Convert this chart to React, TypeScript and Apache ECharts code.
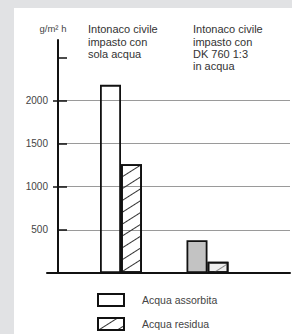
import React, { useEffect, useRef } from 'react';
import * as echarts from 'echarts';

const categories = [
  'Intonaco civile\nimpasto con\nsola acqua',
  'Intonaco civile\nimpasto con\nDK 760 1:3\nin acqua',
];
const seriesNames = ['Acqua assorbita', 'Acqua residua'];
const assorbita = [2180, 380];
const residua = [1260, 130];
const yMin = 0;
const yMax = 2700;
const yStep = 500;
const yTickValues = [500, 1000, 1500, 2000, 2500];
const yMajorTickValues = [1000, 2000];
const yLabelValues = [500, 1000, 1500, 2000];
const unitLabel = 'g/m² h';

const FONT = "'Liberation Sans', Arial, sans-serif";

export default function App() {
  const ref = useRef<HTMLDivElement>(null);
  useEffect(() => {
    if (!ref.current) return;
    const chart = echarts.init(ref.current, null, { renderer: 'svg' });
    const top = 32;
    const bottom = 61;
    const hatch = (color: string) => ({
      symbol: 'rect',
      symbolSize: 1,
      dashArrayX: [1, 0],
      dashArrayY: [1, 9],
      rotation: -Math.PI * 0.18,
      color,
    });
    const gridLineColors = ['rgba(0,0,0,0)', '#9a9a9a', '#9a9a9a', '#9a9a9a', '#9a9a9a', 'rgba(0,0,0,0)', 'rgba(0,0,0,0)'];
    chart.setOption({
      animation: false,
      textStyle: { fontFamily: FONT },
      grid: [
        { left: 44, right: 2, top, bottom },
        { left: 63.75, width: 173, top, bottom },
        { left: 33, right: 2, top, bottom },
      ],
      xAxis: [
        { gridIndex: 0, type: 'value', min: 0, max: 1, show: false },
        { gridIndex: 1, type: 'category', data: categories, show: false },
        {
          gridIndex: 2, type: 'value', min: 0, max: 1,
          axisLine: { show: true, onZero: false, lineStyle: { color: '#111', width: 2 } },
          axisTick: { show: false }, axisLabel: { show: false }, splitLine: { show: false },
        },
      ],
      yAxis: [
        {
          gridIndex: 0, type: 'value', position: 'left', min: yMin, max: yMax, interval: yStep,
          name: unitLabel, nameLocation: 'end', nameGap: 7,
          nameTextStyle: { fontSize: 9.5, color: '#444', align: 'center', padding: [0, 10, 0, 0], fontFamily: FONT },
          axisLine: { show: true, lineStyle: { color: '#111', width: 2 } },
          axisTick: { show: true, inside: true, length: 9, customValues: yTickValues, lineStyle: { color: '#111', width: 1.5 } },
          axisLabel: {
            show: true, customValues: yLabelValues, margin: 10, fontSize: 10, color: '#444', fontFamily: FONT,
            formatter: (v: number) => String(v),
          },
          splitLine: { show: false },
        },
        {
          gridIndex: 0, type: 'value', position: 'left', min: yMin, max: yMax, interval: yStep,
          axisLine: { show: false },
          axisTick: { show: true, inside: false, length: 5, customValues: yMajorTickValues, lineStyle: { color: '#111', width: 1.5 } },
          axisLabel: { show: false },
          splitLine: { show: false },
        },
        {
          gridIndex: 0, type: 'value', position: 'left', min: yMin, max: yMax, interval: yStep,
          axisLine: { show: false }, axisTick: { show: false }, axisLabel: { show: false },
          splitLine: { show: true, lineStyle: { color: gridLineColors, width: 1 } },
        },
        { gridIndex: 1, type: 'value', min: yMin, max: yMax, show: false, splitLine: { show: false } },
        { gridIndex: 2, type: 'value', min: yMin, max: yMax, show: false, splitLine: { show: false } },
      ],
      legend: {
        orient: 'vertical', left: 83, top: 285, bottom: 0, padding: 0,
        itemWidth: 26, itemHeight: 12, itemGap: 10,
        icon: 'rect',
        data: seriesNames,
        textStyle: { fontSize: 10.5, color: '#444', fontFamily: FONT, padding: [0, 0, 0, 13] },
      },
      graphic: categories.map((c, i) => ({
        type: 'text',
        left: i === 0 ? 74 : 179,
        top: 15,
        style: { text: c, fontSize: 11, lineHeight: 12.4, fill: '#333', fontFamily: FONT },
      })),
      series: [
        {
          name: seriesNames[0], type: 'bar', xAxisIndex: 1, yAxisIndex: 3, barWidth: 21, barGap: '0%',
          itemStyle: { color: 'rgba(255,255,255,0)', borderColor: '#111', borderWidth: 1.8 },
          data: assorbita.map((v, i) => (i === 1 ? { value: v, itemStyle: { color: '#c3c3c3' } } : v)),
        },
        {
          name: seriesNames[1], type: 'bar', xAxisIndex: 1, yAxisIndex: 3, barWidth: 21, barGap: '0%',
          itemStyle: { color: 'rgba(255,255,255,0)', borderColor: '#111', borderWidth: 1.8, decal: hatch('#333') },
          data: residua.map((v, i) => (i === 1 ? { value: v, itemStyle: { color: '#eeeeee', decal: hatch('#8a8a8a') } } : v)),
        },
      ],
    });
    return () => chart.dispose();
  }, []);
  return (
    <div style={{ position: 'fixed', left: 0, top: 0, width: 292, height: 334, background: '#e1e2e4' }}>
      <div ref={ref} style={{ position: 'absolute', left: 14, top: 8, width: 278, height: 326, background: '#ffffff' }} />
    </div>
  );
}
